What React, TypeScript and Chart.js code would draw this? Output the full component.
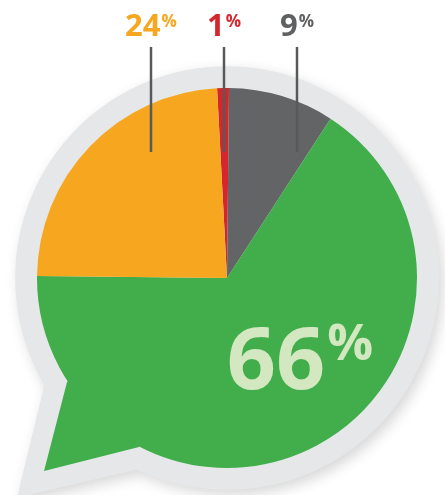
import React, { useEffect, useRef } from "react";
import { Chart, registerables } from "chart.js";

Chart.register(...registerables);

const categories = ["Red", "Gray", "Green", "Orange"];
const values = [1, 9, 66, 24];
const sliceColors = ["#d4262c", "#636466", "#41ae4b", "#f6a71f"];
const labelColors = ["#d4262c", "#5f6062", "#d3e8c1", "#f6a71f"];
// label placement relative to pie centre (dx of leader line); null => inside label
const leaderDx = [-3, 70, null, -76];

const FONT = '"Open Sans", "DejaVu Sans", sans-serif';

const bubblePlugin = {
  id: "bubble",
  beforeDatasetsDraw(chart: any) {
    const meta = chart.getDatasetMeta(0);
    const arc = meta.data[0];
    if (!arc) return;
    const { x: cx, y: cy, outerRadius: r } = arc.getProps(["x", "y", "outerRadius"], true);
    const ctx = chart.ctx;
    const ringR = r * 1.115;
    ctx.save();
    // grey bubble with shadow
    ctx.shadowColor = "rgba(0,0,0,0.16)";
    ctx.shadowBlur = 14;
    ctx.shadowOffsetX = 4;
    ctx.shadowOffsetY = 5;
    ctx.fillStyle = "#e6e7e8";
    ctx.beginPath();
    ctx.arc(cx, cy, ringR, 0, Math.PI * 2);
    ctx.moveTo(cx, cy);
    ctx.lineTo(cx - 0.485 * r, cy + 1.01 * r);
    ctx.lineTo(cx - 1.105 * r, cy + 1.155 * r);
    ctx.lineTo(cx - 0.958 * r, cy + 0.55 * r);
    ctx.closePath();
    ctx.fill("nonzero");
    ctx.restore();
    // green tail
    ctx.save();
    ctx.fillStyle = chart.data.datasets[0].backgroundColor[2];
    ctx.beginPath();
    ctx.moveTo(cx - 0.842 * r, cy + 0.547 * r);
    ctx.lineTo(cx - 0.963 * r, cy + 1.016 * r);
    ctx.lineTo(cx - 0.463 * r, cy + 0.889 * r);
    ctx.lineTo(cx, cy);
    ctx.closePath();
    ctx.fill();
    ctx.restore();
  },
  afterDatasetsDraw(chart: any) {
    const meta = chart.getDatasetMeta(0);
    const arc = meta.data[0];
    if (!arc) return;
    const { x: cx, y: cy } = arc.getProps(["x", "y"], true);
    const ctx = chart.ctx;
    const data = chart.data.datasets[0].data as number[];
    ctx.save();
    data.forEach((v, i) => {
      const dx = leaderDx[i];
      const num = String(v);
      if (dx === null) {
        ctx.font = `700 86px ${FONT}`;
        const w1 = ctx.measureText(num).width;
        ctx.font = `700 51px ${FONT}`;
        const w2 = ctx.measureText("%").width;
        const gx = cx + 73 - (w1 + w2 + 2) / 2;
        ctx.fillStyle = labelColors[i];
        ctx.textBaseline = "alphabetic";
        ctx.textAlign = "left";
        ctx.font = `700 86px ${FONT}`;
        ctx.fillText(num, gx, cy + 111);
        ctx.font = `700 51px ${FONT}`;
        ctx.fillText("%", gx + w1 + 2, cy + 82);
        return;
      }
      const lx = cx + dx;
      ctx.strokeStyle = "#58595b";
      ctx.lineWidth = 2.5;
      ctx.beginPath();
      ctx.moveTo(lx, cy - 231);
      ctx.lineTo(lx, cy - 126);
      ctx.stroke();
      ctx.font = `700 31px ${FONT}`;
      const w1 = ctx.measureText(num).width;
      ctx.font = `700 17px ${FONT}`;
      const w2 = ctx.measureText("%").width;
      const gx = lx - (w1 + w2 + 1) / 2;
      ctx.fillStyle = labelColors[i];
      ctx.textAlign = "left";
      ctx.textBaseline = "alphabetic";
      ctx.font = `700 31px ${FONT}`;
      ctx.fillText(num, gx, cy - 242);
      ctx.font = `700 17px ${FONT}`;
      ctx.fillText("%", gx + w1 + 1, cy - 251);
    });
    ctx.restore();
  },
};

export default function App() {
  const ref = useRef<HTMLCanvasElement | null>(null);
  useEffect(() => {
    document.body.style.margin = "0";
    document.body.style.background = "#ffffff";
    let chart: Chart | null = null;
    let cancelled = false;
    const make = () => {
      if (cancelled || !ref.current) return;
      chart = new Chart(ref.current, {
        type: "pie",
        data: {
          labels: categories,
          datasets: [
            {
              data: values,
              backgroundColor: sliceColors,
              borderWidth: 0,
              hoverOffset: 0,
            },
          ],
        },
        options: {
          responsive: false,
          maintainAspectRatio: false,
          animation: false,
          rotation: -3,
          layout: { padding: { left: 37, right: 28, top: 88, bottom: 27 } },
          plugins: {
            legend: { display: false },
            tooltip: { enabled: false },
          },
        },
        plugins: [bubblePlugin],
      });
    };
    const fonts: any = (document as any).fonts;
    if (fonts && fonts.load) {
      Promise.all([
        fonts.load(`700 31px "Open Sans"`),
        fonts.load(`700 86px "Open Sans"`),
      ]).then(make, make);
    } else {
      make();
    }
    return () => {
      cancelled = true;
      if (chart) chart.destroy();
    };
  }, []);
  return (
    <div style={{ position: "absolute", left: 0, top: 0, width: 445, height: 495 }}>
      <canvas ref={ref} width={445} height={495} style={{ width: 445, height: 495 }} />
    </div>
  );
}
